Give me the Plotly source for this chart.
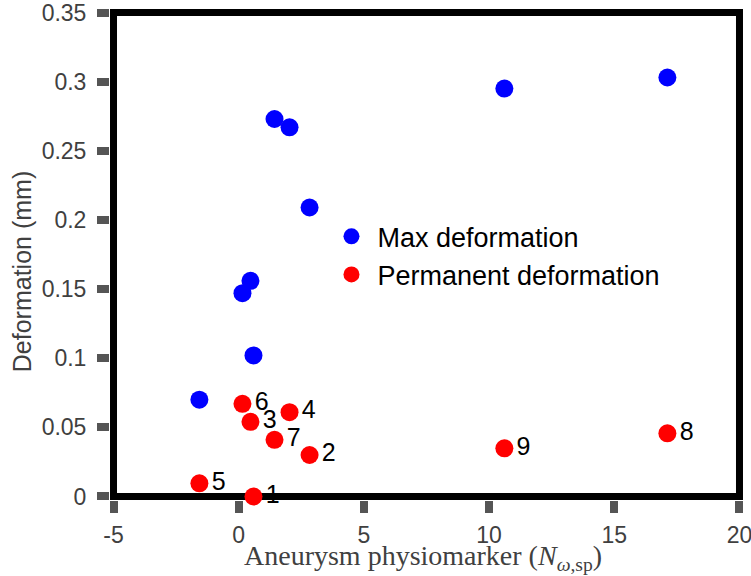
import plotly.graph_objects as go

# Data
physiomarker = [0.59, 2.83, 0.47, 2.03, -1.57, 0.15, 1.43, 17.12, 10.61]
max_deformation = [0.102, 0.209, 0.156, 0.267, 0.070, 0.147, 0.273, 0.303, 0.295]
permanent_deformation = [0.000, 0.030, 0.054, 0.061, 0.0095, 0.067, 0.041, 0.0457, 0.0348]
case_labels = ["1", "2", "3", "4", "5", "6", "7", "8", "9"]

x_ticks = [-5, 0, 5, 10, 15, 20]
y_ticks = [0, 0.05, 0.1, 0.15, 0.2, 0.25, 0.3, 0.35]
y_tick_text = ["0", "0.05", "0.1", "0.15", "0.2", "0.25", "0.3", "0.35"]
X_LIM = [-5, 20]
Y_LIM = [0, 0.35]

SANS = "Liberation Sans, Arial, sans-serif"
GRAY = "#404040"

fig = go.Figure()
fig.add_trace(go.Scatter(
    x=physiomarker, y=max_deformation, mode="markers", name="Max deformation",
    marker=dict(color="#0000ff", size=18), cliponaxis=False,
))
fig.add_trace(go.Scatter(
    x=physiomarker, y=permanent_deformation, mode="markers+text", name="Permanent deformation",
    marker=dict(color="#ff0000", size=18), text=case_labels, textposition="middle right",
    textfont=dict(family=SANS, size=25, color="black"), cliponaxis=False,
))

# Box frame centred on the axis limits
fig.add_shape(type="rect", xref="x", yref="y", x0=X_LIM[0], x1=X_LIM[1], y0=Y_LIM[0], y1=Y_LIM[1],
              line=dict(color="black", width=7), layer="below")

dx = 0.14
dy = 0.00254
fig.update_xaxes(
    range=[X_LIM[0] - dx, X_LIM[1] + dx], tickvals=x_ticks, ticktext=[str(v) for v in x_ticks],
    ticks="outside", ticklen=12, tickwidth=8, tickcolor="#555555",
    showgrid=False, zeroline=False, showline=False, ticklabeloverflow="allow",
    tickfont=dict(family=SANS, size=23, color=GRAY), ticklabelstandoff=2,
)
fig.update_yaxes(
    range=[Y_LIM[0] - dy, Y_LIM[1] + dy], tickvals=y_ticks, ticktext=y_tick_text,
    ticks="outside", ticklen=12, tickwidth=8, tickcolor="#555555",
    showgrid=False, zeroline=False, showline=False, ticklabeloverflow="allow",
    tickfont=dict(family=SANS, size=23, color=GRAY), ticklabelstandoff=6,
)

fig.add_annotation(text="Aneurysm physiomarker (<i>N</i><sub><i>ω</i>,sp</sub>)",
                   xref="paper", yref="paper", x=0.495, y=-0.078,
                   xanchor="center", yanchor="top", showarrow=False,
                   font=dict(family="Liberation Serif, Times New Roman, serif", size=28, color=GRAY))
fig.add_annotation(text="Deformation (mm)", textangle=-90, xref="paper", yref="paper",
                   x=-0.139, y=0.464, xanchor="center", yanchor="middle", showarrow=False,
                   font=dict(family=SANS, size=25, color=GRAY))

fig.update_layout(
    width=751, height=576,
    margin=dict(l=110, r=8, t=9, b=76, autoexpand=False),
    paper_bgcolor="white", plot_bgcolor="white",
    legend=dict(x=0.3404, y=0.586, xanchor="left", yanchor="top", bgcolor="rgba(0,0,0,0)",
                font=dict(family=SANS, size=27, color="black"), tracegroupgap=0,
                itemsizing="trace", itemwidth=42),
)

fig.write_html("out.html", config={"displayModeBar": False},
               post_script="document.body.style.margin='0px';document.body.style.overflow='hidden';")
